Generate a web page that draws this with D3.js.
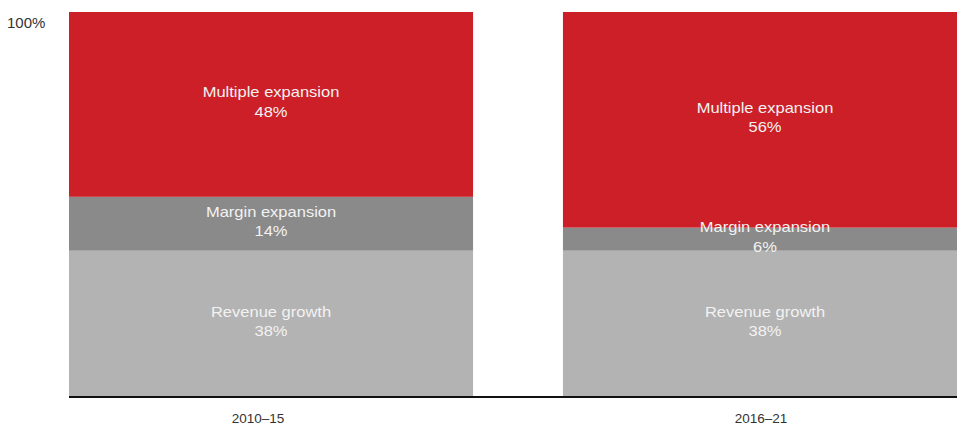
<!DOCTYPE html>
<html>
<head>
<meta charset="utf-8">
<script src="https://cdn.jsdelivr.net/npm/d3@7"></script>
<style>
  html, body { margin: 0; padding: 0; background: #fff; }
  svg { display: block; font-family: "Liberation Sans", Arial, sans-serif; }
</style>
</head>
<body>
<svg id="chart" width="957" height="427"></svg>
<script>
// Periods and the share of returns from each driver (stacked bottom to top)
const periods = ["2010–15", "2016–21"];
const components = ["Revenue growth", "Margin expansion", "Multiple expansion"];
const revenueGrowth = [38, 38];
const marginExpansion = [14, 6];
const multipleExpansion = [48, 56];
const yTickLabels = ["100%"];

const colors = {
  "Revenue growth": "#b3b3b3",
  "Margin expansion": "#8a8a8a",
  "Multiple expansion": "#cc1f27"
};

const rows = periods.map((p, i) => ({
  period: p,
  "Revenue growth": revenueGrowth[i],
  "Margin expansion": marginExpansion[i],
  "Multiple expansion": multipleExpansion[i]
}));

const svg = d3.select("#chart");
const W = 957, H = 427;

const x = d3.scaleBand()
  .domain(periods)
  .range([69, 967])
  .paddingInner(0.182)
  .paddingOuter(0);

const y = d3.scaleLinear().domain([0, 100]).range([397, 12]);

const stacked = d3.stack().keys(components)(rows);

const barLayer = svg.append("g");
const labelLayer = svg.append("g");

stacked.forEach(layer => {
  const key = layer.key;
  barLayer.selectAll(null)
    .data(layer)
    .enter()
    .append("rect")
    .attr("x", d => x(d.data.period))
    .attr("y", d => y(d[1]))
    .attr("width", x.bandwidth())
    .attr("height", d => y(d[0]) - y(d[1]))
    .attr("fill", colors[key]);

  // Segment labels: name and value, centred in each segment (slightly wide type)
  const lab = labelLayer.selectAll(null)
    .data(layer)
    .enter()
    .append("text")
    .attr("text-anchor", "middle")
    .attr("fill", "#f2f2f2")
    .attr("font-size", 14)
    .attr("transform", d => {
      const cx = x(d.data.period) + x.bandwidth() / 2;
      const cy = (y(d[0]) + y(d[1])) / 2;
      return `translate(${cx},${cy}) scale(1.18,1)`;
    });
  lab.append("tspan").attr("x", 0).attr("y", -7).text(key);
  lab.append("tspan").attr("x", 0).attr("y", 12.5).text(d => (d[1] - d[0]) + "%");
});

// Baseline axis with period labels
const xAxis = d3.axisBottom(x).tickSize(0).tickPadding(16);
const ax = svg.append("g")
  .attr("transform", `translate(0,${y(0)})`)
  .call(xAxis);
ax.select(".domain")
  .attr("d", `M69,0H${W}`)
  .attr("stroke", "#111")
  .attr("stroke-width", 2);
ax.selectAll("text")
  .attr("font-size", 13.5)
  .attr("fill", "#333")
  .attr("font-family", "Liberation Sans, Arial, sans-serif")
  .attr("dx", (d, i) => i === 0 ? -13 : -4);

// Top reference label
svg.selectAll(null)
  .data(yTickLabels)
  .enter()
  .append("text")
  .attr("x", 7)
  .attr("y", y(100) + 15.5)
  .attr("font-size", 15)
  .attr("fill", "#333")
  .text(d => d);
</script>
</body>
</html>
